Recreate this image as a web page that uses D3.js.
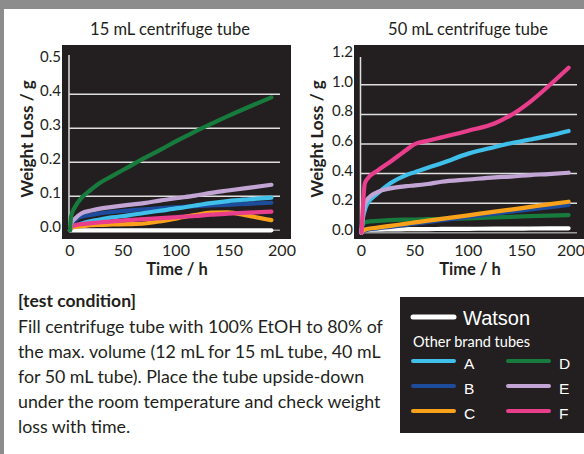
<!DOCTYPE html>
<meta charset="utf-8">
<style>
  body { margin: 0; background: #fff; }
  text { font-family: Lato, "Open Sans", sans-serif; fill: #231f20; }
</style>

<!-- Load d3.js -->
<script src="https://cdn.jsdelivr.net/npm/d3@7"></script>

<div id="my_dataviz"></div>
<script>

// ---- data ----
// 15 mL tube: hours and weight loss (g)
var hours15 = [0, 1, 5, 11, 20, 27, 40, 55, 70, 86, 102, 118, 133, 149, 168, 190];
var watson15 = [0, 0, 0, 0, 0, 0, 0, 0, 0, 0, 0, 0, 0, 0, 0, 0];
var a15 = [0, 0.008, 0.013, 0.02, 0.027, 0.031, 0.038, 0.044, 0.051, 0.058, 0.065, 0.073, 0.08, 0.086, 0.091, 0.096];
var b15 = [0, 0.015, 0.03, 0.04, 0.045, 0.049, 0.054, 0.058, 0.062, 0.065, 0.068, 0.071, 0.073, 0.075, 0.078, 0.081];
var c15 = [0, 0.008, 0.01, 0.012, 0.015, 0.016, 0.017, 0.018, 0.02, 0.027, 0.036, 0.045, 0.052, 0.053, 0.043, 0.03];
var d15 = [0, 0.04, 0.07, 0.096, 0.12, 0.137, 0.16, 0.186, 0.212, 0.238, 0.265, 0.29, 0.313, 0.336, 0.362, 0.391];
var e15 = [0, 0.02, 0.035, 0.05, 0.058, 0.063, 0.069, 0.075, 0.08, 0.088, 0.095, 0.102, 0.11, 0.117, 0.125, 0.134];
var f15 = [0, 0.01, 0.015, 0.018, 0.021, 0.023, 0.026, 0.03, 0.033, 0.036, 0.039, 0.042, 0.046, 0.049, 0.052, 0.055];

// 50 mL tube
var hours50 = [0, 1, 3, 5, 15, 27, 42, 50, 62, 75, 100, 125, 140, 158, 175, 194];
var watson50 = [0.02, 0.02, 0.02, 0.02, 0.022, 0.023, 0.024, 0.025, 0.025, 0.026, 0.027, 0.028, 0.028, 0.029, 0.03, 0.03];
var a50 = [0, 0.08, 0.15, 0.19, 0.265, 0.335, 0.39, 0.41, 0.44, 0.47, 0.535, 0.58, 0.605, 0.63, 0.655, 0.688];
var b50 = [0, 0.01, 0.016, 0.02, 0.03, 0.04, 0.054, 0.062, 0.073, 0.085, 0.107, 0.13, 0.143, 0.158, 0.172, 0.188];
var c50 = [0, 0.01, 0.02, 0.025, 0.035, 0.047, 0.062, 0.07, 0.082, 0.094, 0.118, 0.143, 0.157, 0.175, 0.192, 0.21];
var d50 = [0, 0.05, 0.07, 0.074, 0.08, 0.086, 0.089, 0.09, 0.092, 0.094, 0.098, 0.104, 0.108, 0.112, 0.116, 0.12];
var e50 = [0, 0.1, 0.19, 0.22, 0.275, 0.3, 0.315, 0.32, 0.33, 0.345, 0.36, 0.375, 0.38, 0.39, 0.397, 0.406];
var f50 = [0, 0.13, 0.33, 0.36, 0.42, 0.48, 0.56, 0.6, 0.622, 0.645, 0.69, 0.74, 0.795, 0.885, 0.99, 1.115];

var xTicks = [0, 50, 100, 150, 200];
var yTicks15 = [0, 0.1, 0.2, 0.3, 0.4, 0.5];
var yTicks50 = [0, 0.2, 0.4, 0.6, 0.8, 1.0, 1.2];

var brands = ["A", "B", "C", "D", "E", "F"];
var brandColors = ["#3fbfe9", "#1d4c9c", "#f9a11b", "#177b3d", "#c2a5d4", "#e83e8c"];

var note = [
  "Fill centrifuge tube with 100% EtOH to 80% of",
  "the max. volume (12 mL for 15 mL tube, 40 mL",
  "for 50 mL tube). Place the tube upside-down",
  "under the room temperature and check weight",
  "loss with time."
];

var W = 584, H = 454;
var panelBg = "#231f20";

var svg = d3.select("#my_dataviz")
  .append("svg")
    .attr("width", W)
    .attr("height", H);

// gray frame (top band + left strip)
svg.append("rect").attr("x", 0).attr("y", 0).attr("width", W).attr("height", H).attr("fill", "#8c8c8c");
svg.append("rect").attr("x", 4).attr("y", 9).attr("width", W - 4).attr("height", H - 9).attr("fill", "#fff");

// draws one panel
function drawPanel(o) {
  svg.append("rect")
    .attr("x", o.bg[0]).attr("y", 45)
    .attr("width", o.bg[1] - o.bg[0]).attr("height", 194)
    .attr("fill", panelBg);

  var x = d3.scaleLinear().domain([0, 200]).range(o.xr);
  var y = d3.scaleLinear().domain([0, o.ymax]).range(o.yr);

  // gridlines
  svg.append("g").selectAll("line")
    .data(o.grid)
    .enter().append("line")
      .attr("x1", x(0) - 1).attr("x2", o.gridEnd)
      .attr("y1", function(d) { return y(d); })
      .attr("y2", function(d) { return y(d); })
      .attr("stroke", function(d) { return d === 0 ? "#9a9a9a" : "#dedede"; })
      .attr("stroke-width", 1.5);

  // y axis line
  svg.append("line")
    .attr("x1", x(0) - 1).attr("x2", x(0) - 1)
    .attr("y1", o.axisTop).attr("y2", y(0) + 1)
    .attr("stroke", "#dedede").attr("stroke-width", 1.5);

  // tick labels
  svg.append("g").selectAll("text")
    .data(o.yTicks)
    .enter().append("text")
      .attr("x", o.bg[0] - 1)
      .attr("y", function(d) { return y(d) + 2; })
      .style("text-anchor", "end")
      .style("font-size", "15px")
      .text(function(d) { return d3.format(".1f")(d); });

  svg.append("g").selectAll("text")
    .data(xTicks)
    .enter().append("text")
      .attr("x", function(d) { return Math.min(x(d), W - 13); })
      .attr("y", 256)
      .style("text-anchor", "middle")
      .style("font-size", "16px")
      .text(function(d) { return d; });

  // titles
  svg.append("text")
    .attr("x", o.titleX).attr("y", 35)
    .style("text-anchor", "middle")
    .style("font-size", "16.5px")
    .text(o.title);

  svg.append("text")
    .attr("x", o.timeX).attr("y", 275)
    .style("text-anchor", "middle")
    .style("font-size", "16.5px")
    .style("font-weight", "bold")
    .text("Time / h");

  svg.append("text")
    .attr("transform", "translate(" + o.ylabX + ",139)rotate(-90)")
    .style("text-anchor", "middle")
    .style("font-size", "17px")
    .style("font-weight", "bold")
    .text("Weight Loss / g");

  // lines
  var line = d3.line()
    .x(function(d) { return x(d[0]); })
    .y(function(d) { return y(d[1]); })
    .curve(d3.curveMonotoneX);

  o.series.forEach(function(s) {
    svg.append("path")
      .datum(o.hours.map(function(h, i) { return [h, s.values[i]]; }))
      .attr("fill", "none")
      .attr("stroke", s.color)
      .attr("stroke-width", 4.2)
      .attr("stroke-linecap", "round")
      .attr("stroke-linejoin", "round")
      .attr("d", line);
  });
}

function col(b) { return brandColors[brands.indexOf(b)]; }

drawPanel({
  bg: [62, 291], xr: [70, 282], yr: [230.3, 60.3], ymax: 0.5,
  grid: [0, 0.1, 0.2, 0.3, 0.4], gridEnd: 280, axisTop: 55,
  yTicks: yTicks15, title: "15 mL centrifuge tube", titleX: 170, timeX: 177, ylabX: 33,
  hours: hours15,
  series: [
    {values: watson15, color: "#ffffff"},
    {values: b15, color: col("B")},
    {values: a15, color: col("A")},
    {values: c15, color: col("C")},
    {values: f15, color: col("F")},
    {values: e15, color: col("E")},
    {values: d15, color: col("D")}
  ]
});

drawPanel({
  bg: [354, 584], xr: [361.5, 575], yr: [232.8, 55.2], ymax: 1.2,
  grid: [0, 0.2, 0.4, 0.6, 0.8, 1.0], gridEnd: 577, axisTop: 57,
  yTicks: yTicks50, title: "50 mL centrifuge tube", titleX: 468, timeX: 470, ylabX: 323,
  hours: hours50,
  series: [
    {values: watson50, color: "#ffffff"},
    {values: d50, color: col("D")},
    {values: b50, color: col("B")},
    {values: c50, color: col("C")},
    {values: a50, color: col("A")},
    {values: e50, color: col("E")},
    {values: f50, color: col("F")}
  ]
});

// test condition text
svg.append("text")
  .attr("x", 18).attr("y", 307)
  .style("font-size", "17.5px")
  .style("font-weight", "bold")
  .text("[test condition]");

svg.append("g").selectAll("text")
  .data(note)
  .enter().append("text")
    .attr("x", 18)
    .attr("y", function(d, i) { return 333 + i * 25; })
    .style("font-size", "17.8px")
    .text(function(d) { return d; });

// legend
var lg = svg.append("g");
lg.append("rect").attr("x", 400).attr("y", 297).attr("width", 184).attr("height", 136).attr("fill", panelBg);
lg.append("line").attr("x1", 413).attr("x2", 454).attr("y1", 317).attr("y2", 317)
  .attr("stroke", "#fff").attr("stroke-width", 5).attr("stroke-linecap", "round");
lg.append("text").attr("x", 463).attr("y", 325)
  .style("fill", "#fff").style("font-family", "'Liberation Sans', Arial, sans-serif").style("font-size", "20px")
  .text("Watson");
lg.append("text").attr("x", 413).attr("y", 347)
  .style("fill", "#fff").style("font-size", "14.5px")
  .text("Other brand tubes");

brands.forEach(function(b, i) {
  var cx = i < 3 ? 413 : 508;
  var cy = 361 + (i % 3) * 25;
  lg.append("line").attr("x1", cx).attr("x2", cx + 41).attr("y1", cy).attr("y2", cy)
    .attr("stroke", brandColors[i]).attr("stroke-width", 4).attr("stroke-linecap", "round");
  lg.append("text").attr("x", cx + 51).attr("y", cy + 8)
    .style("fill", "#fff").style("font-family", "'Liberation Sans', Arial, sans-serif").style("font-size", "15.5px")
    .text(b);
});

</script>
